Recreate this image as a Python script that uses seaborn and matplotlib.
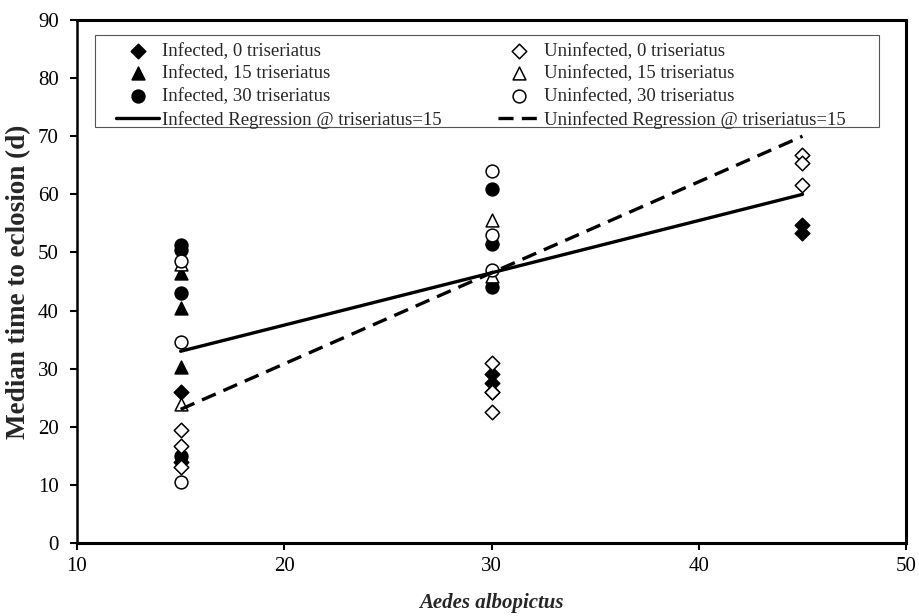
import matplotlib
matplotlib.use("Agg")
import matplotlib.pyplot as plt
from matplotlib.patches import Rectangle
import seaborn as sns
import pandas as pd

# ---- data ----
inf0_x = [15, 15, 30, 30, 30, 45, 45]
inf0_y = [26.0, 14.0, 29.0, 27.5, 26.0, 54.7, 53.4]
un0_x = [15, 15, 15, 30, 30, 30, 45, 45, 45]
un0_y = [19.4, 16.7, 13.0, 31.0, 26.0, 22.5, 66.8, 65.4, 61.6]
inf15_x = [15, 15, 15, 30]
inf15_y = [46.5, 40.5, 30.3, 52.5]
un15_x = [15, 15, 30, 30]
un15_y = [48.0, 24.0, 55.6, 46.0]
inf30_x = [15, 15, 15, 15, 30, 30, 30]
inf30_y = [51.3, 50.4, 43.0, 15.0, 61.0, 51.5, 44.0]
un30_x = [15, 15, 15, 30, 30, 30]
un30_y = [48.5, 34.6, 10.5, 64.0, 53.0, 47.0]

reg_x = [15, 45]
inf_reg_y = [33.0, 60.0]
un_reg_y = [23.0, 70.0]

x_ticks = [10, 20, 30, 40, 50]
y_ticks = [0, 10, 20, 30, 40, 50, 60, 70, 80, 90]

sns.set_theme(style="white")
plt.rcParams["font.family"] = ["Liberation Serif", "DejaVu Serif"]

fig = plt.figure(figsize=(9.19, 6.16), dpi=100)
ax = fig.add_axes([0.0838, 0.1185, 0.9022, 0.849])

groups = [
    ("Infected, 0 triseriatus", inf0_x, inf0_y, "D", "black", 55),
    ("Infected, 15 triseriatus", inf15_x, inf15_y, "^", "black", 85),
    ("Infected, 30 triseriatus", inf30_x, inf30_y, "o", "black", 85),
    ("Uninfected, 0 triseriatus", un0_x, un0_y, "D", "white", 55),
    ("Uninfected, 15 triseriatus", un15_x, un15_y, "^", "white", 85),
    ("Uninfected, 30 triseriatus", un30_x, un30_y, "o", "white", 85),
]
for label, xs, ys, m, fc, s in groups:
    df = pd.DataFrame({"x": xs, "y": ys})
    sns.scatterplot(data=df, x="x", y="y", marker=m, s=s, facecolor=fc,
                    edgecolor="black", linewidth=1.1, ax=ax, label=label,
                    zorder=3)

reg_df = pd.DataFrame({"x": reg_x, "inf": inf_reg_y, "un": un_reg_y})
sns.lineplot(data=reg_df, x="x", y="inf", color="black", linewidth=2.4, ax=ax,
             label="Infected Regression @ triseriatus=15", zorder=4)
sns.lineplot(data=reg_df, x="x", y="un", color="black", linewidth=2.4, ax=ax,
             linestyle=(0, (4.5, 2.5)),
             label="Uninfected Regression @ triseriatus=15", zorder=4)

h, l = ax.get_legend_handles_labels()
lookup = dict(zip(l, h))
order = ["Infected, 0 triseriatus", "Infected, 15 triseriatus",
         "Infected, 30 triseriatus", "Infected Regression @ triseriatus=15",
         "Uninfected, 0 triseriatus", "Uninfected, 15 triseriatus",
         "Uninfected, 30 triseriatus", "Uninfected Regression @ triseriatus=15"]
leg = ax.legend([lookup[k] for k in order], order, ncol=2,
                loc="upper left", bbox_to_anchor=(0.047, 0.957),
                borderaxespad=0.0, frameon=False, fontsize=13.5,
                handlelength=2.3, handletextpad=0.15, labelspacing=0.3,
                borderpad=0.0, columnspacing=3.0)
# legend frame (thin grey box)
ax.add_patch(Rectangle((0.0217, 0.7954), 0.9457, 0.1759, transform=ax.transAxes,
                       facecolor="white", edgecolor="#555555", linewidth=0.8,
                       zorder=4.5))
leg.set_zorder(5)

ax.set_xlim(10, 50)
ax.set_ylim(0, 90)
ax.set_xticks(x_ticks)
ax.set_yticks(y_ticks)
ax.tick_params(axis="both", direction="out", length=5, width=1.5,
               labelsize=15, colors="black", bottom=True, left=True)
ax.tick_params(axis="y", pad=8)
ax.tick_params(axis="x", pad=5)
for sp in ax.spines.values():
    sp.set_visible(True)
    sp.set_color("black")
    sp.set_linewidth(2.2)
ax.spines["left"].set_linewidth(1.8)

ax.set_xlabel("Aedes albopictus", fontsize=15, fontweight="bold",
              fontstyle="italic", labelpad=12)
ax.set_ylabel("Median time to eclosion (d)", fontsize=19.5, fontweight="bold",
              labelpad=5)
ax.grid(False)

fig.savefig("out.png", dpi=100)
